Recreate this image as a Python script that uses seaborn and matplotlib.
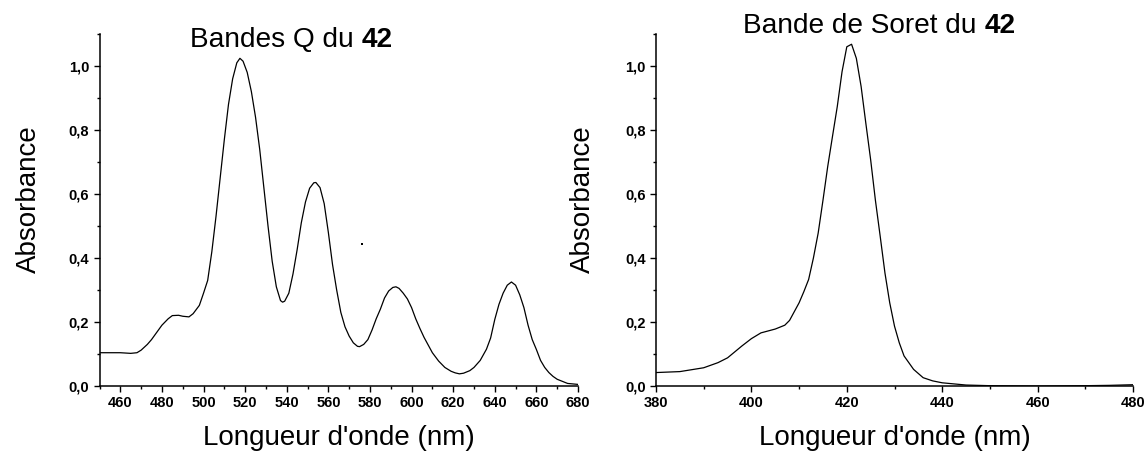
"""
UV-visible spectra of compound 42: Q bands and Soret band, side by side.
"""

import pandas as pd
import matplotlib.pyplot as plt
import matplotlib.ticker as mticker
import seaborn as sns

# ── Data ─────────────────────────────────────────────────────────────────────
q_nm = [450, 455, 460, 465, 468, 470, 473, 475, 478, 480, 483, 485, 488, 490,
        493, 495, 498, 500, 502, 504, 506, 508, 510, 512, 514, 516, 517.5, 519,
        521, 523, 525, 527, 529, 531, 533, 535, 537, 538, 539, 541, 543, 545,
        547, 549, 551, 553, 554, 556, 558, 560, 562, 564, 566, 568, 570, 572,
        574, 575, 577, 579, 581, 583, 585, 587, 589, 591, 592.5, 594, 596, 598,
        600, 602, 604, 606, 608, 610, 613, 616, 619, 621, 623, 625, 628, 630,
        633, 636, 638, 640, 642, 644, 646, 648, 650, 652, 654, 656, 658, 660,
        662, 664, 666, 668, 670, 675, 680]
q_abs = [0.104, 0.104, 0.104, 0.102, 0.104, 0.112, 0.130, 0.145, 0.172, 0.190,
         0.210, 0.220, 0.221, 0.218, 0.216, 0.226, 0.252, 0.290, 0.330, 0.420,
         0.530, 0.650, 0.770, 0.880, 0.960, 1.010, 1.024, 1.015, 0.980, 0.920,
         0.840, 0.740, 0.620, 0.500, 0.390, 0.310, 0.267, 0.262, 0.265, 0.290,
         0.350, 0.426, 0.510, 0.575, 0.618, 0.635, 0.636, 0.620, 0.570, 0.480,
         0.380, 0.300, 0.230, 0.185, 0.156, 0.135, 0.124, 0.123, 0.130, 0.145,
         0.175, 0.210, 0.240, 0.275, 0.297, 0.308, 0.310, 0.305, 0.290, 0.272,
         0.245, 0.210, 0.180, 0.152, 0.128, 0.104, 0.078, 0.058, 0.046, 0.041,
         0.038, 0.040, 0.048, 0.058, 0.080, 0.115, 0.150, 0.208, 0.255, 0.290,
         0.315, 0.325, 0.315, 0.285, 0.245, 0.190, 0.145, 0.114, 0.080, 0.058,
         0.042, 0.030, 0.021, 0.008, 0.005]

stray_nm = [576.3]
stray_abs = [0.445]

soret_nm = [380, 385, 390, 393, 395, 398, 400, 402, 405, 407, 408, 410, 411,
            412, 413, 414, 415, 416, 417, 418, 419, 420, 421, 422, 423, 424,
            425, 426, 427, 428, 429, 430, 431, 432, 434, 436, 438, 440, 445,
            450, 460, 470, 475, 480]
soret_abs = [0.042, 0.045, 0.057, 0.073, 0.088, 0.125, 0.148, 0.166, 0.178,
             0.190, 0.205, 0.260, 0.295, 0.333, 0.400, 0.478, 0.580, 0.686,
             0.780, 0.873, 0.982, 1.060, 1.068, 1.024, 0.936, 0.820, 0.707,
             0.580, 0.468, 0.353, 0.260, 0.187, 0.135, 0.094, 0.052, 0.026,
             0.016, 0.010, 0.003, 0.001, 0.000, 0.001, 0.002, 0.004]

Y_TICKS = [0.0, 0.2, 0.4, 0.6, 0.8, 1.0]

# ── Style ────────────────────────────────────────────────────────────────────
sns.set_theme(style="ticks")
plt.rcParams["font.family"] = ["Liberation Sans", "DejaVu Sans"]
plt.rcParams["text.color"] = "black"
plt.rcParams["axes.labelcolor"] = "black"

W, H = 1146, 453
TITLE_SIZE = 20.2
fig = plt.figure(figsize=(W / 100, H / 100), dpi=100)


def px_axes(x0, x1, y_top, y_bot):
    return fig.add_axes([x0 / W, 1 - y_bot / H, (x1 - x0) / W, (y_bot - y_top) / H])


def style_axes(ax, xlim, xmajor, xminor):
    ax.set_xlim(*xlim)
    ax.set_ylim(0, 1.1)
    ax.xaxis.set_major_locator(mticker.MultipleLocator(xmajor))
    ax.xaxis.set_minor_locator(mticker.MultipleLocator(xminor))
    ax.set_yticks(Y_TICKS)
    ax.yaxis.set_minor_locator(mticker.MultipleLocator(0.1))
    ax.yaxis.set_major_formatter(mticker.FuncFormatter(lambda v, _: f"{v:.1f}".replace(".", ",")))
    ax.tick_params(which="major", direction="out", length=4.3, width=1.0, pad=3,
                   labelsize=10.5, colors="black")
    ax.tick_params(which="minor", direction="out", length=2.2, width=1.0, colors="black")
    for lbl in ax.get_xticklabels() + ax.get_yticklabels():
        lbl.set_fontweight("bold")
    for side in ["top", "right"]:
        ax.spines[side].set_visible(False)
    for side in ["left", "bottom"]:
        ax.spines[side].set_linewidth(1.1)
        ax.spines[side].set_color("black")
    ax.set_xlabel("Longueur d'onde (nm)", fontsize=20, color="black")
    ax.set_ylabel("Absorbance", fontsize=20, color="black")
    ax.xaxis.set_label_coords(0.5, -0.112)
    ax.grid(False)


def mixed_title(x_left, baseline, text):
    """Normal text followed by the bold compound number, with a normal gap."""
    t = fig.text(x_left / W, 1 - baseline / H, text, fontsize=TITLE_SIZE,
                 color="black", ha="left", va="baseline")
    fig.canvas.draw()
    x_end = t.get_window_extent().x1
    gap = 0.278 * TITLE_SIZE * 100 / 72
    fig.text((x_end + gap) / W, 1 - baseline / H, "42", fontsize=TITLE_SIZE,
             fontweight="bold", color="black", ha="left", va="baseline")


# ── Q bands ──────────────────────────────────────────────────────────────────
ax1 = px_axes(99.5, 578, 34, 386)
q_df = pd.DataFrame({"nm": q_nm, "abs": q_abs})
sns.lineplot(data=q_df, x="nm", y="abs", ax=ax1, color="black", linewidth=0.9,
             estimator=None, sort=False)
sns.scatterplot(x=stray_nm, y=stray_abs, ax=ax1, color="black", marker="s",
                s=4, linewidth=0)
style_axes(ax1, (450, 680), 20, 10)
ax1.yaxis.set_label_coords(-0.12, 0.53)

# ── Soret band ───────────────────────────────────────────────────────────────
ax2 = px_axes(656, 1133, 34, 386)
s_df = pd.DataFrame({"nm": soret_nm, "abs": soret_abs})
sns.lineplot(data=s_df, x="nm", y="abs", ax=ax2, color="black", linewidth=0.9,
             estimator=None, sort=False)
style_axes(ax2, (380, 480), 20, 10)
ax2.yaxis.set_label_coords(-0.126, 0.53)

# ── Titles ───────────────────────────────────────────────────────────────────
mixed_title(190, 47, "Bandes Q du")
mixed_title(743, 33, "Bande de Soret du")

fig.savefig("out.png", dpi=100, facecolor="white")
